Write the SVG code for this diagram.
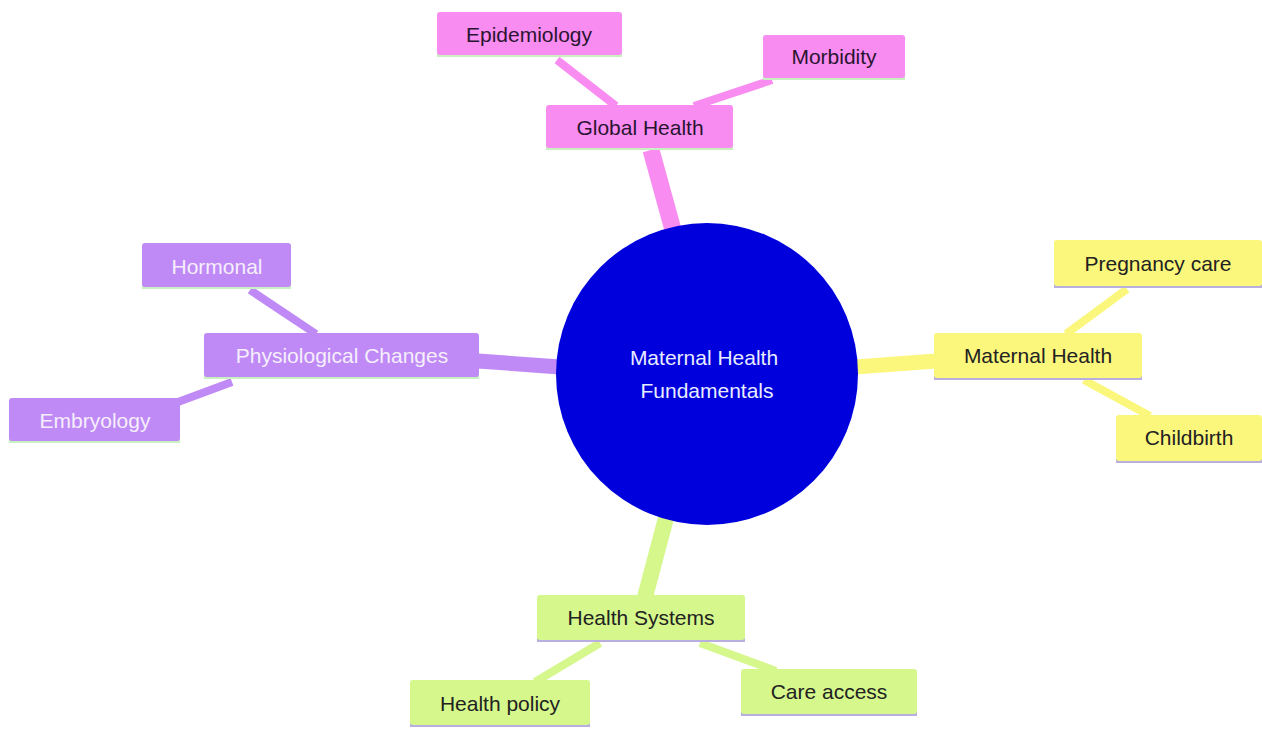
<svg xmlns="http://www.w3.org/2000/svg" width="1262" height="729" viewBox="0 0 1262 729">
<style>
text{font-family:"Liberation Sans",Arial,sans-serif;font-size:21px;text-anchor:middle;dominant-baseline:central}
.pk rect.b{fill:#f98cf0}
.pu rect.b{fill:#bf8af6}
.ye rect.b{fill:#fbf77c}
.gr rect.b{fill:#d5f78c}
.sg{fill:#c9f0c0}
.sp{fill:#b8aee0}
.dk{fill:#2a1530}
.wt{fill:#f6eefc}
.e{fill:none;stroke-linecap:butt}
</style>
<rect width="1262" height="729" fill="#ffffff"/>
<g id="connectors">
<line class="e" x1="651" y1="150" x2="673" y2="230" stroke="#f98cf0" stroke-width="17"/>
<line class="e" x1="557" y1="60" x2="616" y2="106" stroke="#f98cf0" stroke-width="8"/>
<line class="e" x1="772" y1="80" x2="694" y2="106" stroke="#f98cf0" stroke-width="8"/>
<line class="e" x1="478" y1="361" x2="560" y2="367" stroke="#bf8af6" stroke-width="15"/>
<line class="e" x1="250" y1="290" x2="316" y2="334" stroke="#bf8af6" stroke-width="8"/>
<line class="e" x1="178" y1="402" x2="232" y2="382" stroke="#bf8af6" stroke-width="8"/>
<line class="e" x1="855" y1="367" x2="936" y2="361" stroke="#fbf77c" stroke-width="15"/>
<line class="e" x1="1127" y1="289" x2="1066" y2="334" stroke="#fbf77c" stroke-width="8"/>
<line class="e" x1="1084" y1="380" x2="1150" y2="416" stroke="#fbf77c" stroke-width="8"/>
<line class="e" x1="666" y1="518" x2="645" y2="597" stroke="#d5f78c" stroke-width="16"/>
<line class="e" x1="600" y1="643" x2="535" y2="682" stroke="#d5f78c" stroke-width="8"/>
<line class="e" x1="700" y1="643" x2="776" y2="671" stroke="#d5f78c" stroke-width="8"/>
</g>
<g id="root">
<circle cx="707" cy="374" r="151" fill="#0000dd"/>
<text x="704" y="357" fill="#e8ecff" font-size="20">Maternal Health</text>
<text x="707" y="390" fill="#e8ecff" font-size="20">Fundamentals</text>
</g>
<g id="global-health" class="pk">
<rect class="sg" x="546" y="146" width="187" height="4"/>
<rect class="b" x="546" y="105" width="187" height="43" rx="3"/>
<text class="dk" x="640" y="127">Global Health</text>
</g>
<g id="epidemiology" class="pk">
<rect class="sg" x="437" y="53" width="185" height="4"/>
<rect class="b" x="437" y="12" width="185" height="43" rx="3"/>
<text class="dk" x="529" y="34">Epidemiology</text>
</g>
<g id="morbidity" class="pk">
<rect class="sg" x="763" y="76" width="142" height="4"/>
<rect class="b" x="763" y="35" width="142" height="43" rx="3"/>
<text class="dk" x="834" y="56">Morbidity</text>
</g>
<g id="physiological-changes" class="pu">
<rect class="sg" x="204" y="375" width="275" height="4"/>
<rect class="b" x="204" y="333" width="275" height="44" rx="3"/>
<text class="wt" x="342" y="355">Physiological Changes</text>
</g>
<g id="hormonal" class="pu">
<rect class="sg" x="142" y="285" width="149" height="4"/>
<rect class="b" x="142" y="243" width="149" height="44" rx="3"/>
<text class="wt" x="217" y="266">Hormonal</text>
</g>
<g id="embryology" class="pu">
<rect class="sg" x="9" y="439" width="171" height="4"/>
<rect class="b" x="9" y="398" width="171" height="43" rx="3"/>
<text class="wt" x="95" y="420">Embryology</text>
</g>
<g id="maternal-health" class="ye">
<rect class="sp" x="934" y="376" width="208" height="4"/>
<rect class="b" x="934" y="333" width="208" height="45" rx="3"/>
<text fill="#222" x="1038" y="355">Maternal Health</text>
</g>
<g id="pregnancy-care" class="ye">
<rect class="sp" x="1054" y="284" width="208" height="4"/>
<rect class="b" x="1054" y="240" width="208" height="46" rx="3"/>
<text fill="#222" x="1158" y="263">Pregnancy care</text>
</g>
<g id="childbirth" class="ye">
<rect class="sp" x="1116" y="459" width="146" height="4"/>
<rect class="b" x="1116" y="415" width="146" height="46" rx="3"/>
<text fill="#222" x="1189" y="437">Childbirth</text>
</g>
<g id="health-systems" class="gr">
<rect class="sp" x="537" y="638" width="208" height="4"/>
<rect class="b" x="537" y="595" width="208" height="45" rx="3"/>
<text fill="#222" x="641" y="617">Health Systems</text>
</g>
<g id="health-policy" class="gr">
<rect class="sp" x="410" y="723" width="180" height="4"/>
<rect class="b" x="410" y="680" width="180" height="45" rx="3"/>
<text fill="#222" x="500" y="703">Health policy</text>
</g>
<g id="care-access" class="gr">
<rect class="sp" x="741" y="712" width="176" height="4"/>
<rect class="b" x="741" y="669" width="176" height="45" rx="3"/>
<text fill="#222" x="829" y="691">Care access</text>
</g>
</svg>
